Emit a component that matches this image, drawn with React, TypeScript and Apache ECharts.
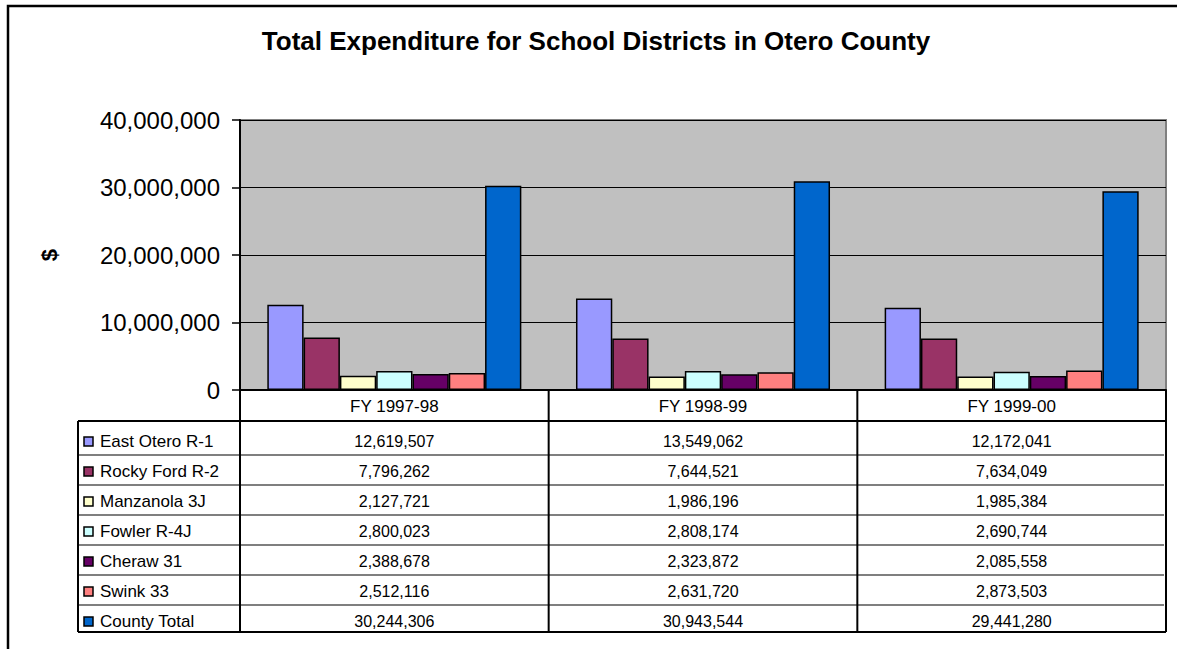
import React, { useEffect, useRef } from "react";
import * as echarts from "echarts";

const categories = ["FY 1997-98", "FY 1998-99", "FY 1999-00"];
const seriesNames = [
  "East Otero R-1",
  "Rocky Ford R-2",
  "Manzanola 3J",
  "Fowler R-4J",
  "Cheraw 31",
  "Swink 33",
  "County Total",
];
const eastOtero = [12619507, 13549062, 12172041];
const rockyFord = [7796262, 7644521, 7634049];
const manzanola = [2127721, 1986196, 1985384];
const fowler = [2800023, 2808174, 2690744];
const cheraw = [2388678, 2323872, 2085558];
const swink = [2512116, 2631720, 2873503];
const countyTotal = [30244306, 30943544, 29441280];
const seriesColors = ["#9999FF", "#993366", "#FFFFCC", "#CCFFFF", "#660066", "#FF8080", "#0066CC"];
const allSeries = [eastOtero, rockyFord, manzanola, fowler, cheraw, swink, countyTotal];

const FONT = "'Liberation Sans', Arial, sans-serif";
const fmt = new Intl.NumberFormat("en-US");

export default function App() {
  const ref = useRef<HTMLDivElement>(null);
  useEffect(() => {
    if (!ref.current) return;
    const chart = echarts.init(ref.current, undefined, { renderer: "svg" });

    const L = 240, R = 1166, T = 120, B = 390;
    const colW = (R - L) / categories.length;
    const tableLeft = 78;
    const tableTop = 421;
    const tableBottom = 632;
    const rowH = 30;
    const firstTextY = 441.5;

    const g: any[] = [];
    // outer frame
    g.push({ type: "rect", shape: { x: 8, y: 6, width: 1200, height: 700 }, style: { fill: "none", stroke: "#000", lineWidth: 2.5 }, silent: true });
    // title
    g.push({
      type: "text", x: 596, y: 41,
      style: { text: "Total Expenditure for School Districts in Otero County", fontFamily: FONT, fontSize: 26, fontWeight: "bold", fill: "#000", align: "center", verticalAlign: "middle" },
    });
    // table lines
    const hl = (y: number, w: number, x1 = tableLeft, x2 = R) =>
      g.push({ type: "line", shape: { x1, y1: y, x2, y2: y }, style: { stroke: "#000", lineWidth: w } });
    const vl = (x: number, y1: number, y2: number, w: number) =>
      g.push({ type: "line", shape: { x1: x, y1, x2: x, y2 }, style: { stroke: "#000", lineWidth: w } });
    hl(tableTop, 2);
    for (let k = 0; k < seriesNames.length - 1; k++) hl(455 + rowH * k, 1.2, tableLeft, R - 2);
    hl(tableBottom, 2);
    vl(tableLeft, tableTop, tableBottom, 2);
    for (let c = 0; c <= categories.length; c++) vl(L + colW * c, B, tableBottom, 2);

    seriesNames.forEach((name, i) => {
      const y = firstTextY + rowH * i;
      g.push({ type: "rect", shape: { x: 84, y: y - 4.5, width: 9, height: 9 }, style: { fill: seriesColors[i], stroke: "#000", lineWidth: 1.5 } });
      g.push({ type: "text", x: 100, y, style: { text: name, fontFamily: FONT, fontSize: 17, fill: "#000", align: "left", verticalAlign: "middle" } });
      allSeries[i].forEach((v, c) => {
        g.push({ type: "text", x: L + colW * (c + 0.5), y, style: { text: fmt.format(v), fontFamily: FONT, fontSize: 16, fill: "#000", align: "center", verticalAlign: "middle" } });
      });
    });

    chart.setOption({
      animation: false,
      backgroundColor: "#fff",
      grid: { left: L, right: 1177 - R, top: T, bottom: 649 - B, show: true, backgroundColor: "#C0C0C0", borderColor: "#808080", borderWidth: 2 },
      xAxis: {
        type: "category",
        data: categories,
        axisLine: { show: true, lineStyle: { color: "#000", width: 2 } },
        axisTick: { show: false },
        axisLabel: { color: "#000", fontFamily: FONT, fontSize: 17, margin: 8 },
      },
      yAxis: {
        type: "value",
        min: 0,
        max: 40000000,
        interval: 10000000,
        name: "$",
        nameLocation: "middle",
        nameRotate: 90,
        nameGap: 180,
        nameTextStyle: { color: "#000", fontFamily: FONT, fontSize: 22, fontWeight: "bold" },
        axisLine: { show: true, lineStyle: { color: "#000", width: 2 } },
        axisTick: { show: true, length: 8, lineStyle: { color: "#000", width: 1.5 } },
        axisLabel: { color: "#000", fontFamily: FONT, fontSize: 24, margin: 20, formatter: (v: number) => fmt.format(v) },
        splitLine: { show: true, lineStyle: { color: "#000", width: 1 } },
      },
      series: seriesNames.map((name, i) => ({
        name,
        type: "bar",
        data: allSeries[i],
        barGap: "0%",
        barCategoryGap: "17.7%",
        itemStyle: { color: seriesColors[i], borderColor: "#000", borderWidth: 1.5 },
      })),
      graphic: g,
    });
    return () => chart.dispose();
  }, []);
  return <div ref={ref} style={{ position: "absolute", left: 0, top: 0, width: 1177, height: 649 }} />;
}
